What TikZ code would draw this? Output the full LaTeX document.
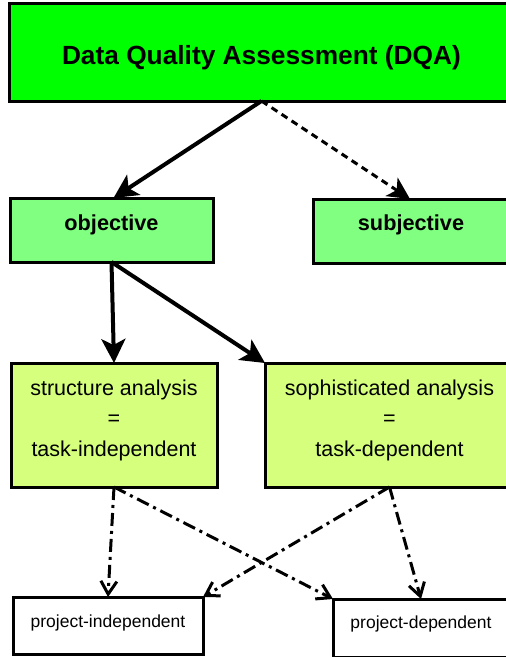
\documentclass[tikz,border=0pt]{standalone}
\usepackage{fontspec}
\setmainfont{Liberation Sans}
\usetikzlibrary{arrows.meta}
\definecolor{dqagreen}{RGB}{0,255,0}
\definecolor{objgreen}{RGB}{128,255,128}
\definecolor{anayellow}{RGB}{214,255,125}
\tikzset{
  box/.style={draw=black, line width=3pt, inner sep=0pt, outer sep=0pt, rectangle},
  txt/.style={inner sep=0pt, outer sep=0pt},
  solidarrow/.style={line width=4pt, -{Stealth[length=24pt,width=24pt,inset=6pt]}},
  dasharrow/.style={line width=3pt, dash pattern=on 7pt off 5pt, -{Stealth[length=22pt,width=22pt,inset=6pt]}},
  dotarrow/.style={line width=3pt, dash pattern=on 13pt off 5pt on 3pt off 5pt, -{Straight Barb[length=13pt,width=16pt,line width=3pt]}}
}
\begin{document}
\begin{tikzpicture}[x=1pt,y=-1pt]
\useasboundingbox (0,0) rectangle (506,657);
% boxes
\node[box, fill=dqagreen, minimum width=505pt, minimum height=98pt] (dqa) at (261.5,52) {};
\node[box, fill=objgreen, minimum width=203pt, minimum height=64pt] (obj) at (111.5,230) {};
\node[box, fill=objgreen, minimum width=196pt, minimum height=64pt] (subj) at (411,231) {};
\node[box, fill=anayellow, minimum width=206pt, minimum height=124pt] (struct) at (114,425) {};
\node[box, fill=anayellow, minimum width=249pt, minimum height=124pt] (soph) at (389.5,425) {};
\node[box, fill=white, minimum width=190pt, minimum height=57pt] (pind) at (108,625.5) {};
\node[box, fill=white, minimum width=176pt, minimum height=58pt] (pdep) at (421,628) {};
% texts
\node[txt, anchor=base] (tdqa) at (261.5,64) {\fontsize{26.3}{30}\selectfont\bfseries Data Quality Assessment (DQA)};
\node[txt, anchor=base] (tobj) at (111.5,230) {\fontsize{21.7}{26}\selectfont\bfseries objective};
\node[txt, anchor=base] (tsubj) at (411,230) {\fontsize{21.7}{26}\selectfont\bfseries subjective};
\node[txt, align=center, font=\fontsize{21.5}{30.5}\selectfont] (tstruct) at (114,420) {structure analysis\\=\\task-independent};
\node[txt, align=center, font=\fontsize{21.5}{30.5}\selectfont] (tsoph) at (389.5,420) {sophisticated analysis\\=\\task-dependent};
\node[txt, anchor=base] (tpind) at (108,627) {\fontsize{17.5}{21}\selectfont project-independent};
\node[txt, anchor=base] (tpdep) at (421,628) {\fontsize{17.5}{21}\selectfont project-dependent};
% connectors
\draw[solidarrow] (dqa.south) -- ([xshift=2pt]obj.north);
\draw[dasharrow] (dqa.south) -- ([xshift=-1pt]subj.north);
\draw[solidarrow] (obj.south) -- (struct.north);
\draw[solidarrow] (obj.south) -- (soph.north west);
\draw[dotarrow] (struct.south) -- (pind.north);
\draw[dotarrow] (struct.south) -- (pdep.north west);
\draw[dotarrow] (soph.south) -- (pind.north east);
\draw[dotarrow] (soph.south) -- (pdep.north);
\end{tikzpicture}
\end{document}
